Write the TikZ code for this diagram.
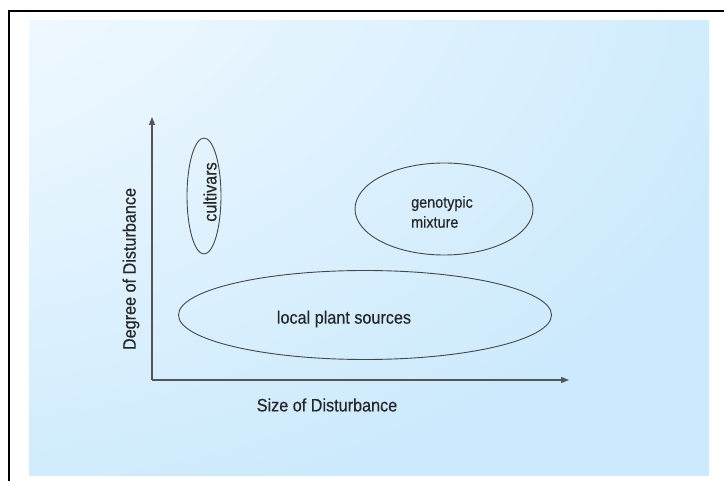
\documentclass[tikz,border=0pt]{standalone}
\usepackage{fontspec}
\setmainfont{Liberation Sans}[FakeStretch=0.9, FakeBold=0.3]
\usetikzlibrary{shapes.geometric,arrows.meta}

\definecolor{skyblue}{RGB}{204,234,253}
\definecolor{axisgray}{RGB}{85,85,85}
\definecolor{rimgray}{RGB}{70,70,70}

% soft fade from white in the upper left corner to sky blue
\pgfdeclareradialshading{skyfade}{\pgfpoint{-50bp}{50bp}}{%
  color(0bp)=(white);
  color(10bp)=(white!94!skyblue);
  color(62bp)=(skyblue);
  color(160bp)=(skyblue)}

\tikzset{
  axis/.style={draw=axisgray, line width=1.1pt, -{Triangle[length=8pt,width=6pt]}},
  zone/.style={ellipse, draw=rimgray, line width=0.9pt, inner sep=0pt},
  caption/.style={font=\fontsize{18}{20}\selectfont, text=black!85, inner sep=0pt},
}

\begin{document}
\begin{tikzpicture}[x=1pt, y=-1pt]
  \useasboundingbox (0,0) rectangle (724,481);
  \clip (0,0) rectangle (724,481);

  % page background and frame
  \fill[white] (0,0) rectangle (724,481);
  \shade[shading=skyfade] (29,21) rectangle (709,476);
  \draw[line width=2.2pt] (9,11) rectangle (727,486);

  % axes
  \coordinate (origin) at (152,380);
  \coordinate (ytip) at (152,117);
  \coordinate (xtip) at (569,380);
  \draw[axis] (origin) -- (ytip);
  \draw[axis] (origin) -- (xtip);

  \node[caption] (xlabel) at (327,405) {Size of Disturbance};
  \node[caption, rotate=90] (ylabel) at (131,269) {Degree of Disturbance};

  % zones
  \node[zone, rotate=90, minimum width=116pt, minimum height=34pt] (cult) at (204,196) {};
  \node[caption, rotate=90] (culttxt) at (210,192) {cultivars};

  \node[zone, minimum width=178pt, minimum height=92pt] (mix) at (444,209) {};
  \node[caption, font=\fontsize{16}{20}\selectfont, align=left] (mixtxt) at (442,212) {genotypic\\mixture};

  \node[zone, minimum width=373pt, minimum height=89pt] (local) at (365,315) {};
  \node[caption] (localtxt) at (344,319) {local plant sources};
\end{tikzpicture}
\end{document}
